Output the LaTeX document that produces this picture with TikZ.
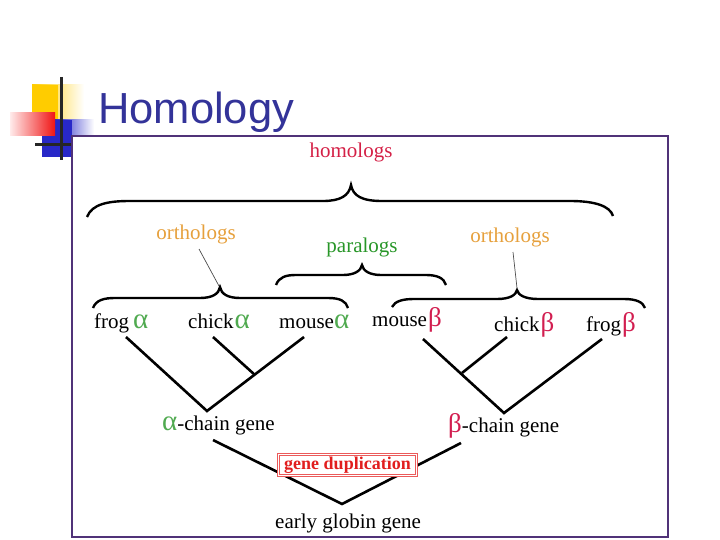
\documentclass[tikz,border=0pt]{standalone}
\usepackage{fontspec}
\setmainfont{Liberation Serif}
\newfontfamily\titlefont{Liberation Sans}
\definecolor{titleblue}{RGB}{51,51,153}
\definecolor{framecol}{RGB}{80,50,120}
\definecolor{homred}{RGB}{212,32,70}
\definecolor{orthcol}{RGB}{230,160,60}
\definecolor{paracol}{RGB}{40,150,40}
\definecolor{agreen}{RGB}{80,170,80}
\definecolor{bred}{RGB}{210,30,80}
\definecolor{dupred}{RGB}{225,30,30}
\definecolor{dupbox}{RGB}{235,90,90}
\definecolor{logoyellow}{RGB}{255,204,0}
\definecolor{logored}{RGB}{240,20,20}
\definecolor{logoblue}{RGB}{40,40,200}
\newcommand{\agk}{{\fontsize{29}{29}\selectfont\color{agreen}α}}
\newcommand{\bgk}{{\fontsize{27}{27}\selectfont\color{bred}β}}
\begin{document}
\begin{tikzpicture}[x=1pt,y=-1pt,
  lbl/.style={inner sep=0pt, anchor=base west, font=\fontsize{21}{25}\selectfont},
  cat/.style={inner sep=0pt, anchor=base, font=\fontsize{21}{25}\selectfont},
  bracepath/.style={line width=2.4pt, black},
  branch/.style={line width=2.6pt, black},
  pointer/.style={line width=0.7pt, black!70}]
\useasboundingbox (0,0) rectangle (720,540);
% logo
\shade[left color=logoyellow, right color=white] (32,85) rectangle (84,121);
\fill[logoyellow] (32,85) rectangle (58,121);
\shade[left color=logoblue, right color=white] (55,120) rectangle (94,137);
\fill[logoblue] (42,120) rectangle (72,157);
\shade[left color=red!8, right color=logored] (10,113) rectangle (55,136);
\draw[line width=3pt, black!85] (61,77) -- (61,160);
\draw[line width=3pt, black!85] (35,145) -- (72,145);
\node[inner sep=0pt, anchor=base west, font=\titlefont\fontsize{43.5}{45}\selectfont, text=titleblue] (title) at (98,124) {Homology};
% frame
\draw[framecol, line width=1.5pt] (72,136) rectangle (668,537);
% category labels
\node[cat, text=homred] (homologs) at (351,158) {homologs};
\node[cat, text=orthcol] (orthL) at (196,240) {orthologs};
\node[cat, text=orthcol] (orthR) at (510,242) {orthologs};
\node[cat, text=paracol] (paralogs) at (362,252) {paralogs};
% braces
\draw[bracepath] (87,217) .. controls (92,204) and (108,201) .. (130,201) -- (323,201)
  .. controls (340,201) and (349,196) .. (351,185)
  .. controls (353,196) and (362,201) .. (382,201) -- (570,201)
  .. controls (595,201) and (610,206) .. (613,216);
\draw[bracepath] (93,308) .. controls (96,300) and (104,298) .. (115,298) -- (200,298)
  .. controls (212,298) and (219,294) .. (220,287)
  .. controls (221,294) and (228,298) .. (240,298) -- (328,298)
  .. controls (340,298) and (346,301) .. (348,308);
\draw[bracepath] (276,285) .. controls (279,277) and (286,275) .. (296,275) -- (343,275)
  .. controls (354,275) and (361,271) .. (362,265)
  .. controls (363,271) and (370,275) .. (381,275) -- (426,275)
  .. controls (437,275) and (444,278) .. (446,285);
\draw[bracepath] (392,307) .. controls (395,301) and (403,299) .. (414,299) -- (497,299)
  .. controls (510,299) and (516,295) .. (517,290)
  .. controls (518,295) and (525,299) .. (538,299) -- (624,299)
  .. controls (636,299) and (643,302) .. (645,308);
\coordinate (tipL) at (219,286);
\coordinate (tipR) at (517,288);
\draw[pointer] (199,249) -- (tipL);
\draw[pointer] (513,252) -- (tipR);
% leaves
\node[lbl] (frogA) at (94,328) {frog\hspace{4pt}\agk};
\node[lbl] (chickA) at (188,328) {chick\hspace{1pt}\agk};
\node[lbl] (mouseA) at (279,328) {mouse\agk};
\node[lbl] (mouseB) at (372,326) {mouse\hspace{1pt}\bgk};
\node[lbl] (chickB) at (494,331) {chick\hspace{1pt}\bgk};
\node[lbl] (frogB) at (586,331) {frog\hspace{1pt}\bgk};
\node[lbl] (achain) at (162,430) {\agk-chain gene};
\node[lbl] (bchain) at (448,432) {\bgk-chain gene};
\node[lbl] (early) at (275,528) {early globin gene};
% tree coordinates
\coordinate (fa) at (126,337);
\coordinate (ca) at (213,337);
\coordinate (ma) at (304,337);
\coordinate (ja) at (255,375);
\coordinate (ra) at (207,411);
\coordinate (mb) at (423,339);
\coordinate (cb) at (507,337);
\coordinate (jb) at (462,373);
\coordinate (fb) at (602,339);
\coordinate (rb) at (504,413);
\coordinate (ac) at (213,440);
\coordinate (bc) at (461,443);
\coordinate (eg) at (342,504);
\draw[branch] (fa) -- (ra) -- (ma);
\draw[branch] (ca) -- (ja);
\draw[branch] (mb) -- (rb) -- (fb);
\draw[branch] (cb) -- (jb);
\draw[branch] (ac) -- (eg) -- (bc);
% gene duplication box
\node[draw=dupbox, double=white, double distance=1.4pt, line width=0.8pt, fill=white,
  minimum width=138pt, minimum height=21pt, inner sep=0pt,
  font=\bfseries\fontsize{18}{20}\selectfont, text=dupred] (dup) at (347.5,465) {gene duplication};
\end{tikzpicture}
\end{document}
